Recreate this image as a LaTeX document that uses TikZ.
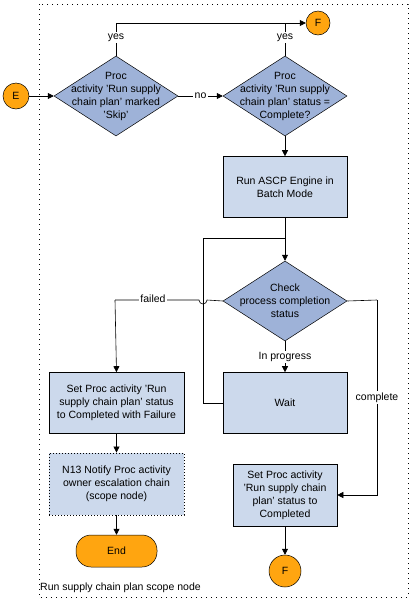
\documentclass[tikz,border=0pt]{standalone}
\usepackage{fontspec}
\setmainfont{Liberation Sans}
\usetikzlibrary{shapes.geometric,arrows.meta}
\definecolor{diafill}{RGB}{158,178,216}
\definecolor{boxfill}{RGB}{204,217,236}
\definecolor{orn}{RGB}{255,165,16}
\tikzset{
  txt/.style={font=\fontsize{10.5}{13}\selectfont, align=center, inner sep=0pt},
  dia/.style={diamond, draw=black, fill=diafill, minimum width=124pt, minimum height=80pt, inner sep=0pt, line width=0.5pt},
  proc/.style={txt, rectangle, draw=black, fill=boxfill, line width=0.6pt},
  conn/.style={txt, circle, draw=black, fill=orn, line width=0.5pt},
  lbl/.style={txt, fill=white, inner sep=1.5pt},
  arr/.style={-{Triangle[length=6pt,width=6pt]}, line width=0.6pt},
  ln/.style={line width=0.6pt},
}
\begin{document}
\begin{tikzpicture}[x=1pt,y=-1pt]
\useasboundingbox (0,0) rectangle (411,600);
\draw[dash pattern=on 1pt off 4pt, line width=0.8pt] (39,4) rectangle (408,597);

\node[conn, minimum size=26pt] (E) at (16,96) {E};
\node[dia] (d1) at (116,96) {};
\node[txt] (d1t) at (116,96) {Proc\\activity 'Run supply\\chain plan' marked\\'Skip'};
\node[dia] (d2) at (285,96) {};
\node[txt] (d2t) at (285,96) {Proc\\activity 'Run supply\\chain plan' status =\\Complete?};
\node[conn, minimum size=24pt] (F1) at (318,23) {F};
\node[proc, minimum width=124pt, minimum height=61pt] (ascp) at (285,187) {Run ASCP Engine in\\Batch Mode};
\node[dia] (chk) at (285,301) {};
\node[txt] (chkt) at (285,301) {Check\\process completion\\status};
\node[proc, minimum width=124pt, minimum height=61pt] (wait) at (285,403) {Wait};
\node[proc, minimum width=135pt, minimum height=61pt] (fail) at (116.5,403) {Set Proc activity 'Run\\supply chain plan' status\\to Completed with Failure};
\node[proc, dash pattern=on 1pt off 2pt, line width=0.8pt, minimum width=135pt, minimum height=62pt] (n13) at (116.5,484) {N13 Notify Proc activity\\owner escalation chain\\(scope node)};
\node[txt, draw=black, fill=orn, rounded corners=15pt, minimum width=81pt, minimum height=32pt, line width=0.5pt] (end) at (116.5,551) {End};
\node[proc, minimum width=104pt, minimum height=62pt] (comp) at (285,495) {Set Proc activity\\'Run supply chain\\plan' status to\\Completed};
\node[conn, minimum size=32pt] (F2) at (285,571) {F};
\node[txt, anchor=west] (scope) at (40,588) {Run supply chain plan scope node};

\coordinate (top1) at (116,23);
\coordinate (top2) at (285,23);
\coordinate (loopjoin) at (285,238);
\coordinate (loopleft) at (203,238);
\coordinate (failc) at (115,300);
\coordinate (compc) at (377,300);

% E -> d1
\draw[arr] (E) -- (d1.west);
% d1 -> d2 (no)
\draw[arr] (d1.east) -- node[lbl] {no} (d2.west);
% yes branches to F
\draw[ln] (d1.north) -- node[lbl, pos=0.55] {yes} (top1);
\draw[arr] (top1) -- (F1.west);
\draw[ln] (d2.north) -- node[lbl, pos=0.55] {yes} (top2);
% d2 -> ascp
\draw[arr] (d2.south) -- (ascp.north);
% ascp -> chk
\draw[arr] (ascp.south) -- (chk.north);
% loop from wait
\draw[ln] (wait.west) -| (loopleft) -- (loopjoin);
% in progress
\draw[arr] (chk.south) -- node[lbl, pos=0.5] {In progress} (wait.north);
% failed with jump
\draw[ln] (chk.west) -- (207,300) arc[start angle=0, end angle=180, radius=4] -- (failc);
\node[lbl] (failedlbl) at (153,299) {failed};
\draw[arr] (failc) -- (fail.north);
% complete
\draw[ln] (chk.east) -- (compc);
\draw[arr] (compc) |- node[lbl, pos=0.25] {complete} (comp.east);
% failure -> n13 -> end
\draw[arr] (fail.south) -- (n13.north);
\draw[arr] (n13.south) -- (end.north);
% comp -> F2
\draw[arr] (comp.south) -- (F2.north);
\end{tikzpicture}
\end{document}
